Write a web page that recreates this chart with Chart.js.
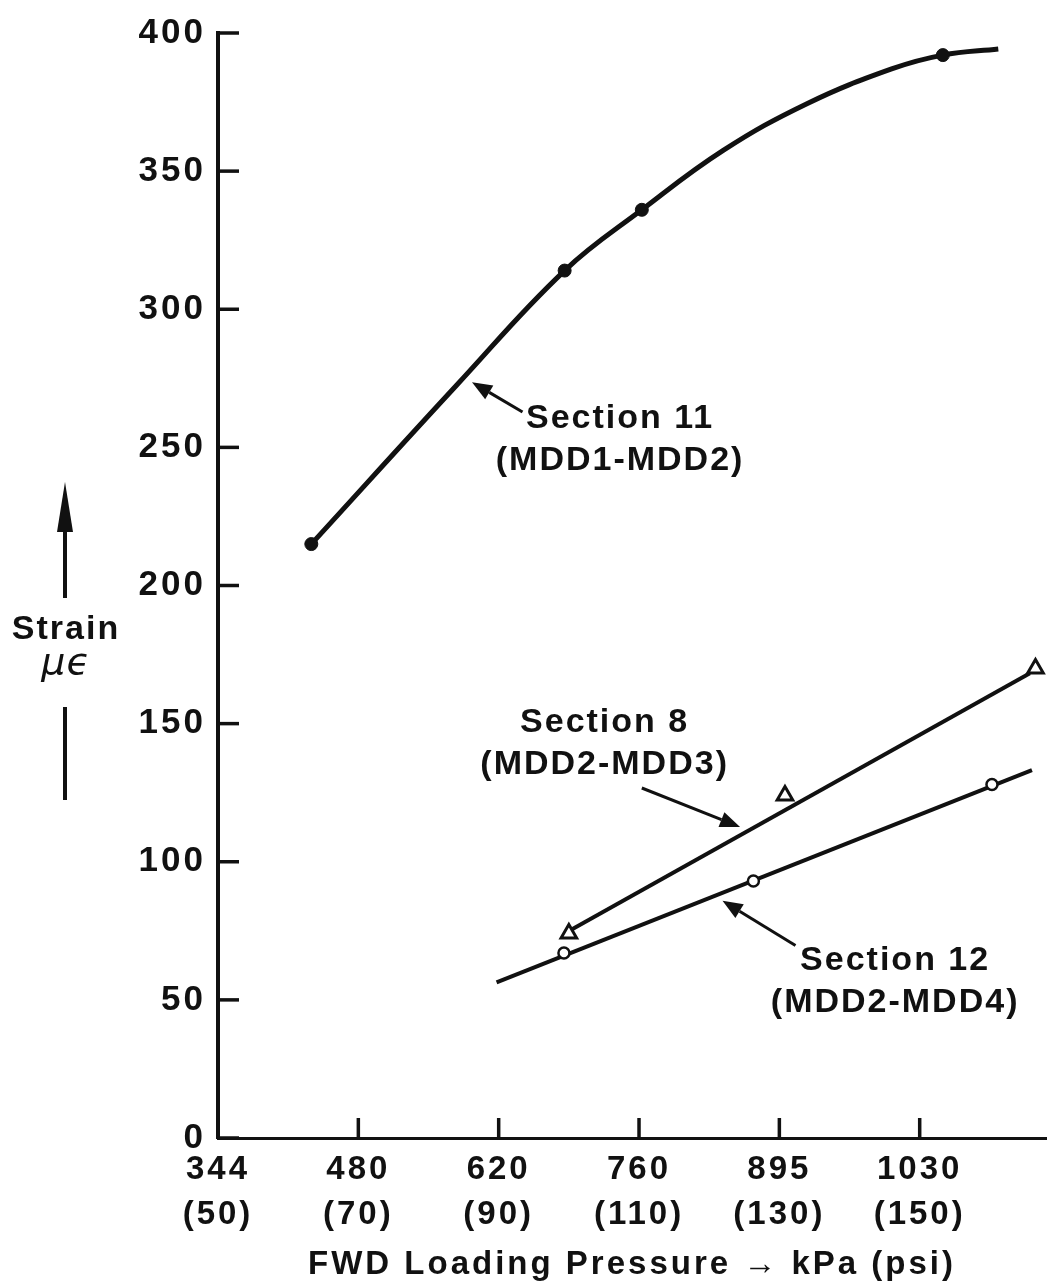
<!DOCTYPE html>
<html>
<head>
<meta charset="utf-8">
<script src="https://cdn.jsdelivr.net/npm/chart.js@4.4.1/dist/chart.umd.min.js"></script>
<style>
  html, body { margin: 0; padding: 0; background: #fff; }
  #wrap { width: 1050px; height: 1286px; position: relative; }
</style>
</head>
<body>
<div id="wrap"><canvas id="strainChart"></canvas></div>
<script>
// x axis runs in psi; each tick also carries its kPa value
const psiTicks = [50, 70, 90, 110, 130, 150];
const kpaTicks = ['344', '480', '620', '760', '895', '1030'];

// Section 11 (MDD1-MDD2): measured points and the drawn-through curve
const sec11Psi = [63.3, 99.4, 110.4, 153.3];
const sec11Strain = [215, 314, 336, 392];
const sec11FitPsi = [63.3, 84.0, 99.4, 110.4, 122.0, 134.0, 146.0, 153.3, 161.2];
const sec11FitStrain = [215, 272.5, 314, 336, 357.5, 374.5, 387, 392, 394.2];

// Section 8 (MDD2-MDD3)
const sec8Psi = [100.0, 130.8, 166.5];
const sec8Strain = [74, 124, 170];
const sec8FitPsi = [100.4, 165.7];
const sec8FitStrain = [75.5, 168.2];

// Section 12 (MDD2-MDD4)
const sec12Psi = [99.3, 126.3, 160.3];
const sec12Strain = [67, 93, 128];
const sec12FitPsi = [89.7, 166.0];
const sec12FitStrain = [56.3, 133.2];

const INK = '#111';
const FONT = '"Liberation Sans", Arial, sans-serif';

function pairs(xs, ys) {
  return xs.map((x, i) => ({ x: x, y: ys[i] }));
}

// callout labels with their arrows, placed in data units (psi, strain)
const callouts = [
  { text: ['Section 11', '(MDD1-MDD2)'], at: [107.3, 260.5], tail: [93.4, 262.8], tip: [86.2, 273.6] },
  { text: ['Section 8', '(MDD2-MDD3)'], at: [105.1, 150.5], tail: [110.4, 126.7], tip: [124.4, 112.6] },
  { text: ['Section 12', '(MDD2-MDD4)'], at: [146.5, 64.3], tail: [132.3, 69.7], tip: [121.9, 85.9] }
];

function arrow(ctx, x0, y0, x1, y1, width, headLen, headHalf) {
  const a = Math.atan2(y1 - y0, x1 - x0);
  const bx = x1 - headLen * Math.cos(a), by = y1 - headLen * Math.sin(a);
  ctx.lineWidth = width;
  ctx.beginPath();
  ctx.moveTo(x0, y0);
  ctx.lineTo(bx, by);
  ctx.stroke();
  ctx.beginPath();
  ctx.moveTo(x1, y1);
  ctx.lineTo(bx + headHalf * Math.sin(a), by - headHalf * Math.cos(a));
  ctx.lineTo(bx - headHalf * Math.sin(a), by + headHalf * Math.cos(a));
  ctx.closePath();
  ctx.fill();
}

// wide letter spacing for the axis text
const spacing = {
  id: 'spacing',
  beforeDraw(chart) { chart.ctx.letterSpacing = '3px'; }
};

// inward tick marks, y-axis caption and the section callouts
const decorations = {
  id: 'decorations',
  afterDraw(chart) {
    const { ctx, chartArea, scales: { x, y } } = chart;
    ctx.save();
    ctx.strokeStyle = INK;
    ctx.fillStyle = INK;
    ctx.lineWidth = 3.5;
    y.ticks.forEach(t => {
      const py = y.getPixelForValue(t.value);
      ctx.beginPath();
      ctx.moveTo(chartArea.left, py);
      ctx.lineTo(chartArea.left + 21, py);
      ctx.stroke();
    });
    x.ticks.forEach(t => {
      const px = x.getPixelForValue(t.value);
      ctx.beginPath();
      ctx.moveTo(px, chartArea.bottom);
      ctx.lineTo(px, chartArea.bottom - 20);
      ctx.stroke();
    });

    // y caption: arrow, "Strain", micro-strain symbol, bar
    ctx.textAlign = 'center';
    ctx.textBaseline = 'middle';
    ctx.letterSpacing = '2px';
    ctx.font = 'bold 34px ' + FONT;
    ctx.fillText('Strain', 66, 630);
    ctx.letterSpacing = '1px';
    ctx.font = 'italic 38px "DejaVu Sans", sans-serif';
    ctx.fillText('μϵ', 66, 664);
    arrow(ctx, 65, 598, 65, 482, 4, 50, 8);
    ctx.lineWidth = 4;
    ctx.beginPath();
    ctx.moveTo(65, 707);
    ctx.lineTo(65, 800);
    ctx.stroke();

    ctx.font = 'bold 34px ' + FONT;
    ctx.letterSpacing = '2px';
    callouts.forEach(c => {
      const cx = x.getPixelForValue(c.at[0]);
      const cy = y.getPixelForValue(c.at[1]);
      c.text.forEach((line, i) => ctx.fillText(line, cx, cy + i * 42));
      arrow(ctx,
        x.getPixelForValue(c.tail[0]), y.getPixelForValue(c.tail[1]),
        x.getPixelForValue(c.tip[0]), y.getPixelForValue(c.tip[1]),
        3, 20, 8);
    });
    ctx.restore();
  }
};

const ctx = document.getElementById('strainChart');
new Chart(ctx, {
  type: 'scatter',
  data: {
    datasets: [
      { label: 'Section 11', data: pairs(sec11Psi, sec11Strain), pointStyle: 'circle', pointRadius: 6.5,
        backgroundColor: INK, borderColor: INK, borderWidth: 1, order: 0, clip: false },
      { label: 'Section 8', data: pairs(sec8Psi, sec8Strain), pointStyle: 'triangle', pointRadius: 9,
        backgroundColor: '#fff', borderColor: INK, borderWidth: 3, order: 0, clip: false },
      { label: 'Section 12', data: pairs(sec12Psi, sec12Strain), pointStyle: 'circle', pointRadius: 5.5,
        backgroundColor: '#fff', borderColor: INK, borderWidth: 2.5, order: 0, clip: false },
      { label: 'Section 11 curve', data: pairs(sec11FitPsi, sec11FitStrain), showLine: true, pointRadius: 0,
        borderColor: INK, borderWidth: 5, tension: 0.4, order: 1, clip: false },
      { label: 'Section 8 line', data: pairs(sec8FitPsi, sec8FitStrain), showLine: true, pointRadius: 0,
        borderColor: INK, borderWidth: 4, order: 1, clip: false },
      { label: 'Section 12 line', data: pairs(sec12FitPsi, sec12FitStrain), showLine: true, pointRadius: 0,
        borderColor: INK, borderWidth: 4, order: 1, clip: false }
    ]
  },
  options: {
    responsive: true,
    maintainAspectRatio: false,
    animation: false,
    events: [],
    layout: { padding: { top: 30, right: 4, left: 0, bottom: 0 }, autoPadding: false },
    plugins: { legend: { display: false }, tooltip: { enabled: false } },
    scales: {
      x: {
        type: 'linear',
        min: 50,
        max: 168,
        afterBuildTicks: s => { s.ticks = psiTicks.map(v => ({ value: v })); },
        afterFit: s => { s.height = 148; },
        grid: { display: false, drawTicks: false },
        border: { display: true, color: INK, width: 3 },
        ticks: {
          color: INK,
          padding: 9,
          maxRotation: 0,
          autoSkip: false,
          font: { family: FONT, size: 33, weight: 'bold', lineHeight: 1.37 },
          callback: function (value) {
            const i = psiTicks.indexOf(value);
            return i < 0 ? '' : [kpaTicks[i], '(' + value + ')'];
          }
        },
        title: {
          display: true,
          text: 'FWD Loading Pressure → kPa (psi)',
          color: INK,
          font: { family: FONT, size: 33, weight: 'bold', lineHeight: 1.2 },
          padding: { top: 0, bottom: 1 }
        }
      },
      y: {
        min: 0,
        max: 400,
        afterFit: s => { s.width = 218; },
        grid: { display: false, drawTicks: false },
        border: { display: true, color: INK, width: 4 },
        ticks: {
          stepSize: 50,
          color: INK,
          padding: 12,
          font: { family: FONT, size: 35, weight: 'bold' }
        }
      }
    }
  },
  plugins: [spacing, decorations]
});
</script>
</body>
</html>
